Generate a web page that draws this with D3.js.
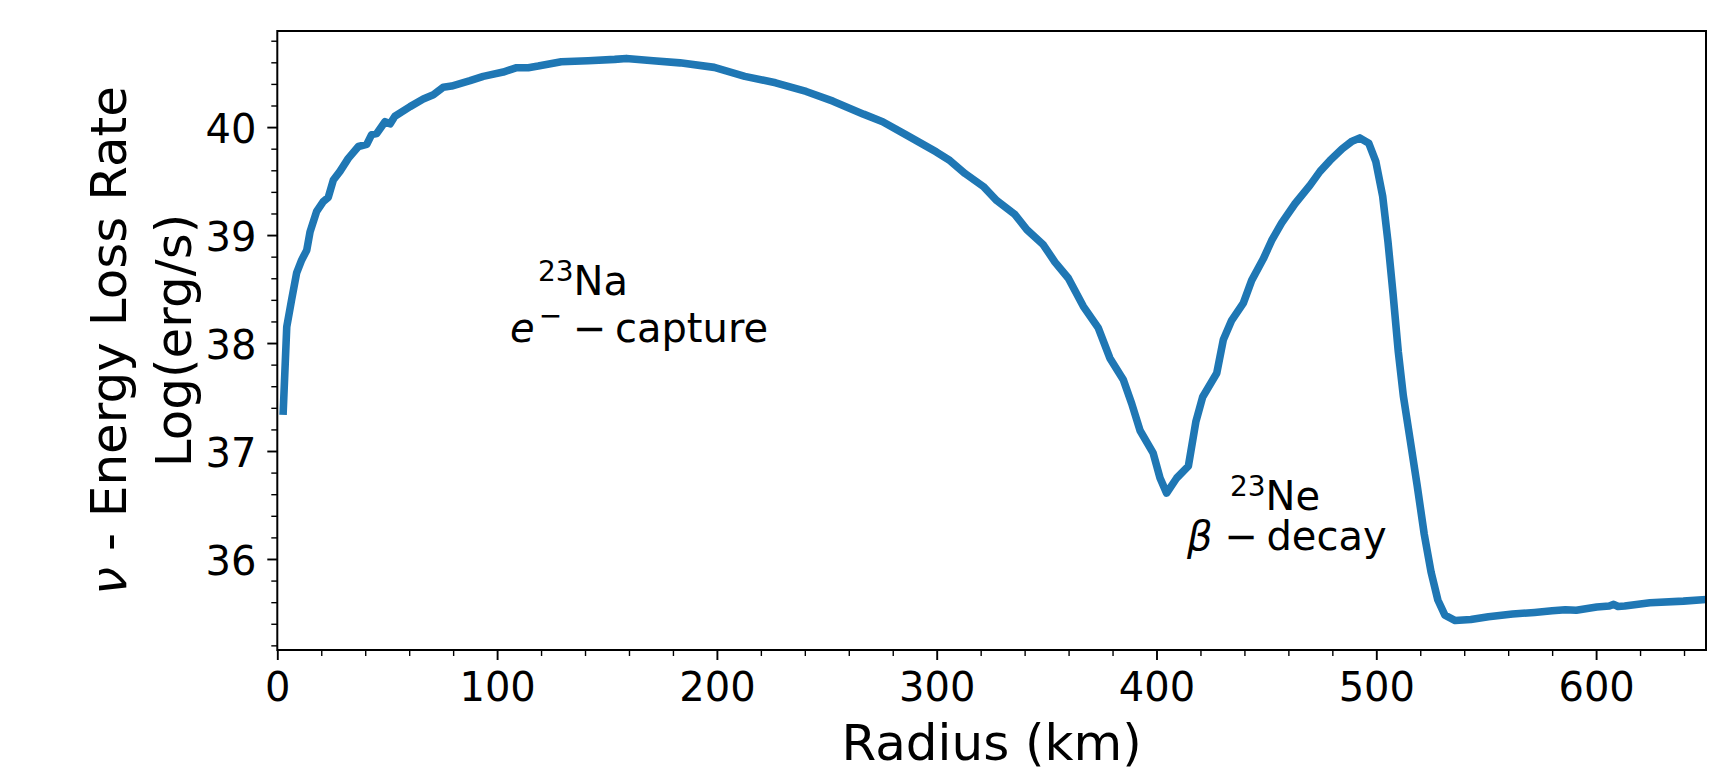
<!DOCTYPE html>
<html>
<head>
<meta charset="utf-8">
<title>Energy loss rate vs radius</title>
<script src="https://cdn.jsdelivr.net/npm/d3@7"></script>
<style>
  body { margin: 0; background: #fff; }
  svg text { font-family: "DejaVu Sans", sans-serif; fill: #000; }
</style>
</head>
<body>
<svg width="1733" height="773"></svg>
<script>
// radius (km) and log energy loss rate
var radius = [2.7, 4.3, 6.5, 8.8, 11.1, 13.4, 14.9, 17.9, 20.9, 23.2, 25.5, 28.5, 32.3, 36.9, 40.7, 42.9,
  45.2, 49.0, 51.3, 53.5, 60.4, 66.4, 71.0, 75.5, 79.3, 87.7, 93.7, 102.8, 108.9, 114.2, 118.7, 129.2,
  141.4, 153.5, 158.8, 171.0, 183.2, 198.8, 212.7, 226.7, 240.6, 252.8, 266.7, 275.4, 285.9, 299.8,
  306.0, 312.9, 321.2, 327.3, 335.6, 341.0, 348.5, 353.8, 359.9, 366.7, 373.5, 378.8, 384.9, 388.7,
  392.5, 398.5, 401.6, 404.6, 409.2, 414.5, 417.9, 421.0, 427.4, 430.4, 434.2, 439.5, 443.3, 448.6,
  452.4, 456.9, 463.0, 469.8, 474.4, 478.9, 484.5, 489.0, 492.5, 496.6, 499.8, 502.9, 505.3, 507.6,
  510.0, 512.3, 515.5, 518.6, 521.8, 524.9, 528.0, 531.2, 535.9, 543.0, 551.0, 562.0, 572.0, 580.0,
  586.0, 591.0, 600.3, 606.0, 608.0, 610.0, 613.0, 624.5, 639.7, 650.0];
var lossRate = [37.37, 38.15, 38.40, 38.65, 38.77, 38.86, 39.03, 39.22, 39.31, 39.35, 39.51, 39.59, 39.71, 39.82, 39.84, 39.93,
  39.94, 40.05, 40.03, 40.10, 40.19, 40.26, 40.30, 40.37, 40.38, 40.43, 40.47, 40.51, 40.55, 40.55, 40.565, 40.605,
  40.614, 40.627, 40.636, 40.614, 40.595, 40.553, 40.47, 40.41, 40.33, 40.24, 40.12, 40.05, 39.93, 39.77,
  39.69, 39.57, 39.45, 39.32, 39.19, 39.05, 38.91, 38.75, 38.60, 38.34, 38.14, 37.86, 37.66, 37.44,
  37.19, 36.98, 36.75, 36.61, 36.75, 36.86, 37.27, 37.50, 37.72, 38.03, 38.21, 38.37, 38.58, 38.78,
  38.95, 39.11, 39.29, 39.46, 39.59, 39.69, 39.80, 39.87, 39.90, 39.85, 39.68, 39.36, 38.94, 38.46,
  37.92, 37.51, 37.09, 36.68, 36.23, 35.88, 35.62, 35.48, 35.43, 35.44, 35.465, 35.49, 35.505, 35.52,
  35.53, 35.525, 35.555, 35.565, 35.58, 35.56, 35.565, 35.595, 35.61, 35.625];

var xTicks = [0, 100, 200, 300, 400, 500, 600];
var xMinor = d3.range(0, 651, 20).filter(function (d) { return d % 100 !== 0; });
var yTicks = [36, 37, 38, 39, 40];
var yMinor = d3.range(35.2, 40.85, 0.2).map(function (d) { return +d.toFixed(1); })
  .filter(function (d) { return d % 1 !== 0; });

var svg = d3.select("svg");
var mLeft = 277.3, mRight = 1706, mTop = 31, mBottom = 650;

var x = d3.scaleLinear().domain([0, 650]).range([mLeft, mRight]);
var y = d3.scaleLinear().domain([35.157, 40.89]).range([mBottom, mTop]);

svg.append("rect").attr("width", 1733).attr("height", 773).attr("fill", "#fff");

svg.append("clipPath").attr("id", "plot")
  .append("rect").attr("x", mLeft).attr("y", mTop)
  .attr("width", mRight - mLeft).attr("height", mBottom - mTop);

// the curve
var pts = radius.map(function (r, i) { return [r, lossRate[i]]; });
var line = d3.line().x(function (d) { return x(d[0]); }).y(function (d) { return y(d[1]); });
svg.append("path")
  .datum(pts)
  .attr("clip-path", "url(#plot)")
  .attr("d", line)
  .attr("fill", "none")
  .attr("stroke", "#1f77b4")
  .attr("stroke-width", 7.6)
  .attr("stroke-linejoin", "round")
  .attr("stroke-linecap", "square");

// axes
var fontTick = 40;
function styleAxis(g) {
  g.select(".domain").remove();
  g.attr("font-family", null).attr("font-size", null);
  g.selectAll("text").attr("font-size", fontTick).attr("fill", "#000");
}

svg.append("g").attr("transform", "translate(0," + mBottom + ")")
  .call(d3.axisBottom(x).tickValues(xMinor).tickSize(6).tickFormat(""))
  .call(styleAxis)
  .selectAll("line").attr("stroke-width", 1.4);

var gx = svg.append("g").attr("transform", "translate(0," + mBottom + ")")
  .call(d3.axisBottom(x).tickValues(xTicks).tickSize(10).tickFormat(d3.format("d")))
  .call(styleAxis);
gx.selectAll("line").attr("stroke-width", 1.9);
gx.selectAll("text").attr("y", 51).attr("dy", null);

svg.append("g").attr("transform", "translate(" + mLeft + ",0)")
  .call(d3.axisLeft(y).tickValues(yMinor).tickSize(6).tickFormat(""))
  .call(styleAxis)
  .selectAll("line").attr("stroke-width", 1.4);

var gy = svg.append("g").attr("transform", "translate(" + mLeft + ",0)")
  .call(d3.axisLeft(y).tickValues(yTicks).tickSize(10).tickFormat(d3.format("d")))
  .call(styleAxis);
gy.selectAll("line").attr("stroke-width", 1.9);
gy.selectAll("text").attr("x", -20.8).attr("dy", "0.39em");

// frame
svg.append("rect")
  .attr("x", mLeft).attr("y", mTop)
  .attr("width", mRight - mLeft).attr("height", mBottom - mTop)
  .attr("fill", "none").attr("stroke", "#000").attr("stroke-width", 2);

// axis labels
svg.append("text")
  .attr("x", (mLeft + mRight) / 2).attr("y", 760)
  .attr("text-anchor", "middle").attr("font-size", 50)
  .text("Radius (km)");

var yl1 = svg.append("text")
  .attr("transform", "translate(126," + (mTop + mBottom) / 2 + ") rotate(-90)")
  .attr("text-anchor", "middle").attr("font-size", 50);
yl1.append("tspan").attr("font-style", "italic").text("ν");
yl1.append("tspan").text(" - Energy Loss Rate");

svg.append("text")
  .attr("transform", "translate(191," + (mTop + mBottom) / 2 + ") rotate(-90)")
  .attr("text-anchor", "middle").attr("font-size", 50)
  .text("Log(erg/s)");

// annotations
function isotope(r, v, mass, name) {
  var t = svg.append("text").attr("x", x(r)).attr("y", y(v)).attr("font-size", 40);
  t.append("tspan").attr("font-size", 28).attr("dy", -14).text(mass);
  t.append("tspan").attr("dy", 14).text(name);
}
isotope(118.6, 38.444, "23", "Na");
isotope(433.4, 36.453, "23", "Ne");

var t1 = svg.append("text").attr("x", x(105.9)).attr("y", y(38.009)).attr("font-size", 40);
t1.append("tspan").attr("font-style", "italic").text("e");
t1.append("tspan").attr("font-size", 28).attr("dx", 4).attr("dy", -17).text("\u2212");
t1.append("tspan").attr("dx", 10.8).attr("dy", 17).text("\u2212");
t1.append("tspan").attr("dx", 8.5).text("capture");

var t2 = svg.append("text").attr("x", x(413.9)).attr("y", y(36.082)).attr("font-size", 40);
t2.append("tspan").attr("font-style", "italic").text("β");
t2.append("tspan").attr("dx", 12).text("\u2212");
t2.append("tspan").attr("dx", 8.3).text("decay");
</script>
</body>
</html>
